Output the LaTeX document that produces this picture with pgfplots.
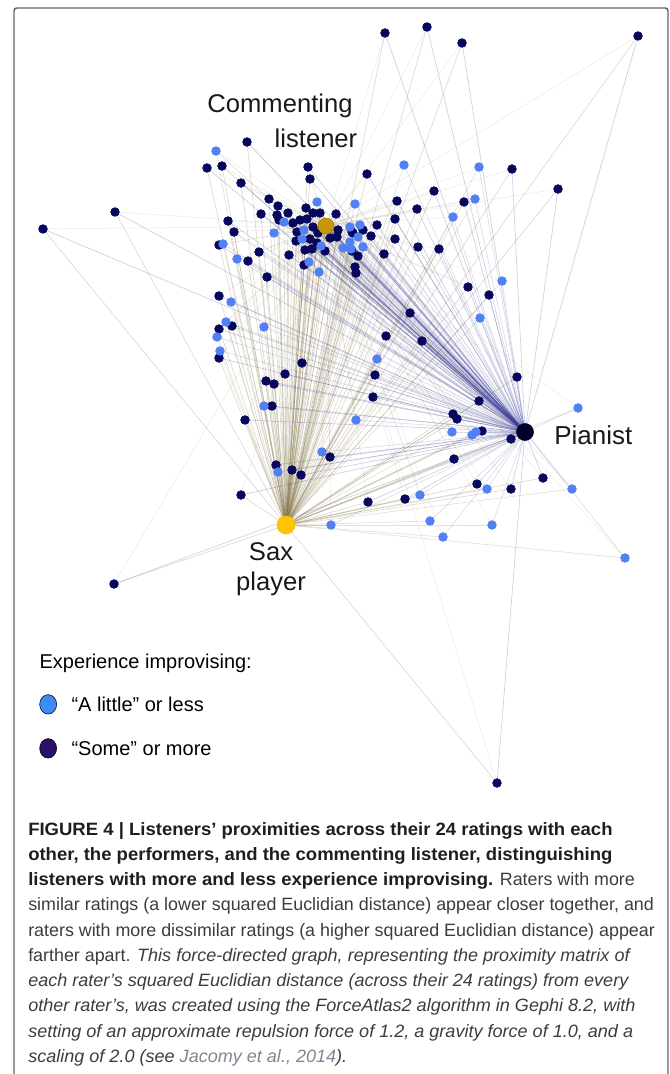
\documentclass[border=0pt]{standalone}
\usepackage{fontspec}
\setmainfont{Liberation Sans}
\newfontface\capboldface{Liberation Sans Bold}[FakeStretch=1.036]
\newfontface\capitface{Liberation Sans Italic}[FakeStretch=1.01]
\usepackage{pgfplots}
\pgfplotsset{compat=1.18}
\usepackage{pgfplotstable}

\definecolor{lightnode}{RGB}{80,128,242}
\definecolor{darknode}{RGB}{6,6,92}
\definecolor{clnode}{RGB}{200,150,10}
\definecolor{saxnode}{RGB}{255,198,0}
\definecolor{pianode}{RGB}{0,0,42}
\definecolor{saxedge}{RGB}{135,120,75}
\definecolor{piaedge}{RGB}{60,60,150}
\definecolor{cledge}{RGB}{150,140,105}
\definecolor{leglight}{RGB}{60,140,245}
\definecolor{legdark}{RGB}{45,15,110}
\definecolor{captext}{RGB}{60,60,60}
\definecolor{capbold}{RGB}{30,30,30}
\definecolor{capref}{RGB}{125,135,145}
\definecolor{frame}{RGB}{100,100,100}

% listeners with "a little" or less improvising experience
\pgfplotstableread{
x y
216 151
404 165
479 167
317 202
355 204
475 199
453 217
284 222
274 233
304 230
302 239
350 227
360 225
358 237
343 248
351 249
363 247
321 246
223 244
237 259
309 262
319 272
231 302
226 322
264 327
217 337
220 351
264 406
322 452
278 472
331 525
502 281
480 318
377 359
356 420
578 408
452 432
472 435
476 432
487 489
572 489
420 495
430 521
492 525
443 537
625 558
350 242
}\lightnodes

% listeners with "some" or more improvising experience
\pgfplotstableread{
x y
385 33
427 27
462 43
638 36
247 142
207 168
222 166
241 183
308 167
310 179
367 174
512 169
558 189
434 191
397 201
464 202
417 209
269 199
115 212
43 229
278 206
261 214
277 215
228 221
234 232
219 245
259 252
248 261
289 255
304 265
306 208
313 213
320 213
336 214
395 219
377 225
338 230
363 230
352 232
371 236
395 239
418 247
439 249
358 256
384 254
355 267
293 223
300 220
307 219
297 232
313 227
337 237
353 233
310 239
317 243
325 251
312 249
352 251
279 220
288 213
296 241
330 238
318 233
305 250
267 277
219 296
232 326
219 329
219 358
302 363
285 374
266 381
274 384
272 406
245 420
330 457
276 465
292 470
301 475
241 495
356 273
468 287
489 295
410 313
386 336
422 341
375 375
517 377
373 397
479 401
453 414
457 419
482 431
511 439
454 459
543 478
477 484
511 489
368 502
405 499
114 584
497 783
}\darknodes

\begin{document}
\begin{tikzpicture}
\begin{axis}[
  name=ax,
  scale only axis,
  width=502.5pt, height=805.5pt,
  xmin=0, xmax=670, ymin=0, ymax=1074,
  y dir=reverse,
  hide axis,
  clip=false,
  legend cell align=left,
  legend style={at={(axis cs:36.5,651)}, anchor=north west, draw=none, fill=none,
    inner sep=0pt, row sep=18.4pt, column sep=11.2pt,
    font=\fontsize{15}{18}\selectfont, nodes={inner sep=0pt}},
]
% frame
\draw[frame, line width=1.1pt, rounded corners=2pt] (axis cs:14,8) rectangle (axis cs:668,1085);

% edges to the sax player
\addplot[forget plot, draw=saxedge, opacity=0.28, line width=0.5pt,
  quiver={u={286-\thisrow{x}}, v={525-\thisrow{y}}}] table {\darknodes};
\addplot[forget plot, draw=saxedge, opacity=0.22, line width=0.5pt,
  quiver={u={286-\thisrow{x}}, v={525-\thisrow{y}}}] table {\lightnodes};
% edges to the pianist
\addplot[forget plot, draw=piaedge, opacity=0.25, line width=0.5pt,
  quiver={u={525-\thisrow{x}}, v={432-\thisrow{y}}}] table {\darknodes};
\addplot[forget plot, draw=piaedge, opacity=0.18, line width=0.5pt,
  quiver={u={525-\thisrow{x}}, v={432-\thisrow{y}}}] table {\lightnodes};
% edges to the commenting listener
\addplot[forget plot, draw=cledge, opacity=0.16, line width=0.5pt,
  quiver={u={326-\thisrow{x}}, v={226-\thisrow{y}}}] table {\darknodes};
\addplot[forget plot, draw=cledge, opacity=0.14, line width=0.5pt,
  quiver={u={326-\thisrow{x}}, v={226-\thisrow{y}}}] table {\lightnodes};
% edges between the three hubs
\addplot[forget plot, draw=piaedge, opacity=0.5, line width=0.8pt] coordinates {(326,226) (525,432)};
\addplot[forget plot, draw=saxedge, opacity=0.5, line width=0.8pt] coordinates {(326,226) (286,525)};
\addplot[forget plot, draw=saxedge, opacity=0.3, line width=0.6pt] coordinates {(286,525) (525,432)};

% listener nodes
\addplot[forget plot, only marks, mark=*, mark size=3.3pt, draw=darknode, fill=darknode] table {\darknodes};
\addplot[forget plot, only marks, mark=*, mark size=3.3pt, draw=lightnode, fill=lightnode] table {\lightnodes};

% hubs
\addplot[forget plot, only marks, mark=*, mark size=6pt, draw=clnode!85!black, fill=clnode] coordinates {(326,226)};
\addplot[forget plot, only marks, mark=*, mark size=6.8pt, draw=saxnode!80!orange, fill=saxnode] coordinates {(286,525)};
\addplot[forget plot, only marks, mark=*, mark size=6.4pt, draw=pianode, fill=pianode] coordinates {(525,432)};

% labels
\node[anchor=base, inner sep=0pt, font=\fontsize{19.2}{23}\selectfont, text=black!90] at (axis cs:280,112) {Commenting};
\node[anchor=base, inner sep=0pt, font=\fontsize{19.2}{23}\selectfont, text=black!90] at (axis cs:316,147) {listener};
\node[anchor=base west, inner sep=0pt, font=\fontsize{19.5}{23}\selectfont, text=black!90] at (axis cs:554,444) {Pianist};
\node[anchor=base, inner sep=0pt, font=\fontsize{19.2}{23}\selectfont, text=black!90] at (axis cs:271,560) {Sax};
\node[anchor=base, inner sep=0pt, font=\fontsize{19.2}{23}\selectfont, text=black!90] at (axis cs:271,590) {player};

% legend
\addlegendimage{empty legend}
\addlegendentry{\hspace*{-24pt}Experience improvising:\strut}
\addlegendimage{only marks, mark=*, mark size=7.3pt, mark options={fill=leglight, draw=black, line width=0.4pt, xscale=0.87}}
\addlegendentry{“A little” or less\strut}
\addlegendimage{only marks, mark=*, mark size=7.3pt, mark options={fill=legdark, draw=black, line width=0.4pt, xscale=0.87}}
\addlegendentry{“Some” or more\strut}

% caption
\begin{scope}[every node/.style={anchor=base west, inner sep=0pt, font=\fontsize{13.4}{19}\selectfont, text=captext}]
\node at (axis cs:28,835) {\textcolor{capbold}{\capboldface FIGURE 4 | Listeners’ proximities across their 24 ratings with each}};
\node at (axis cs:28,860) {\textcolor{capbold}{\capboldface other, the performers, and the commenting listener, distinguishing}};
\node at (axis cs:28,885) {\textcolor{capbold}{\capboldface listeners with more and less experience improvising.} Raters with more};
\node at (axis cs:28,910) {similar ratings (a lower squared Euclidian distance) appear closer together, and};
\node at (axis cs:28,936) {raters with more dissimilar ratings (a higher squared Euclidian distance) appear};
\node at (axis cs:28,961) {farther apart. {\capitface This force-directed graph, representing the proximity matrix of}};
\node at (axis cs:28,986) {\capitface each rater’s squared Euclidian distance (across their 24 ratings) from every};
\node at (axis cs:28,1011) {\capitface other rater’s, was created using the ForceAtlas2 algorithm in Gephi 8.2, with};
\node at (axis cs:28,1037) {\capitface setting of an approximate repulsion force of 1.2, a gravity force of 1.0, and a};
\node at (axis cs:28,1062) {\capitface scaling of 2.0 (see \textcolor{capref}{Jacomy et al., 2014}).};
\end{scope}
\end{axis}
\pgfresetboundingbox
\path[use as bounding box] (ax.south west) rectangle (ax.north east);
\end{tikzpicture}
\end{document}
